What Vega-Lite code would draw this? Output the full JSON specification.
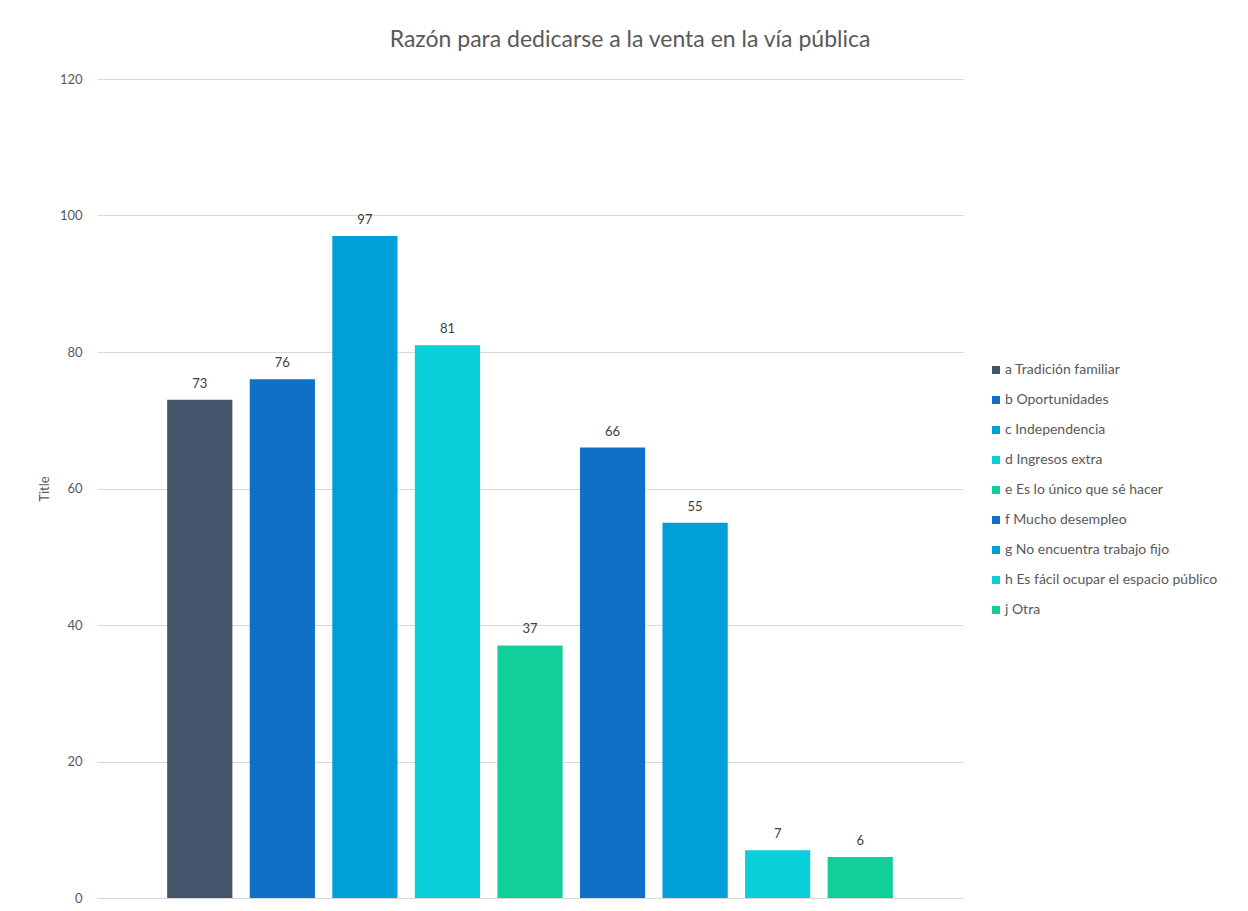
{
  "$schema": "https://vega.github.io/schema/vega-lite/v6.json",
  "autosize": {"type": "none"},
  "width": 866,
  "height": 819,
  "padding": {"left": 97, "top": 79, "right": 285, "bottom": 13},
  "background": "white",
  "title": {
    "text": "Razón para dedicarse a la venta en la vía pública",
    "anchor": "middle",
    "dx": 100,
    "offset": 21,
    "font": "Lato",
    "fontSize": 23,
    "fontWeight": "normal",
    "color": "#595959"
  },
  "data": {
    "values": [
      {"razon": "a Tradición familiar", "valor": 73},
      {"razon": "b Oportunidades", "valor": 76},
      {"razon": "c Independencia", "valor": 97},
      {"razon": "d Ingresos extra", "valor": 81},
      {"razon": "e Es lo único que sé hacer", "valor": 37},
      {"razon": "f Mucho desempleo", "valor": 66},
      {"razon": "g No encuentra trabajo fijo", "valor": 55},
      {"razon": "h Es fácil ocupar el espacio público", "valor": 7},
      {"razon": "j Otra", "valor": 6}
    ]
  },
  "encoding": {
    "x": {
      "field": "razon",
      "type": "nominal",
      "sort": null,
      "scale": {"paddingInner": 0.21, "paddingOuter": 0.85},
      "axis": null
    },
    "y": {
      "field": "valor",
      "type": "quantitative",
      "scale": {"domain": [0, 120]},
      "axis": {
        "title": "Title",
        "values": [0, 20, 40, 60, 80, 100, 120],
        "domain": false,
        "ticks": false,
        "grid": true,
        "gridColor": "#d9d9d9",
        "gridWidth": 1,
        "labelFont": "Lato",
        "labelFontSize": 13,
        "labelColor": "#595959",
        "labelPadding": 15,
        "titleFont": "Lato",
        "titleFontSize": 13,
        "titleFontWeight": "normal",
        "titleColor": "#595959",
        "titlePadding": 8
      }
    }
  },
  "layer": [
    {
      "mark": {"type": "bar"},
      "encoding": {
        "color": {
          "field": "razon",
          "type": "nominal",
          "sort": null,
          "scale": {
            "range": ["#44546A", "#1070C6", "#009FDA", "#0BD0D9", "#10CF9B", "#1070C6", "#009FDA", "#0BD0D9", "#10CF9B"]
          },
          "legend": {
            "title": null,
            "orient": "none",
            "legendX": 892,
            "legendY": 284,
            "symbolType": "square",
            "symbolSize": 64,
            "symbolStrokeWidth": 0,
            "labelFont": "Lato",
            "labelFontSize": 14,
            "labelColor": "#595959",
            "labelOffset": 2,
            "rowPadding": 16,
            "labelLimit": 300
          }
        }
      }
    },
    {
      "mark": {
        "type": "text",
        "baseline": "bottom",
        "dy": -9,
        "font": "Lato",
        "fontSize": 13,
        "color": "#404040"
      },
      "encoding": {
        "text": {"field": "valor", "type": "quantitative"}
      }
    }
  ],
  "config": {
    "view": {"stroke": null}
  }
}
